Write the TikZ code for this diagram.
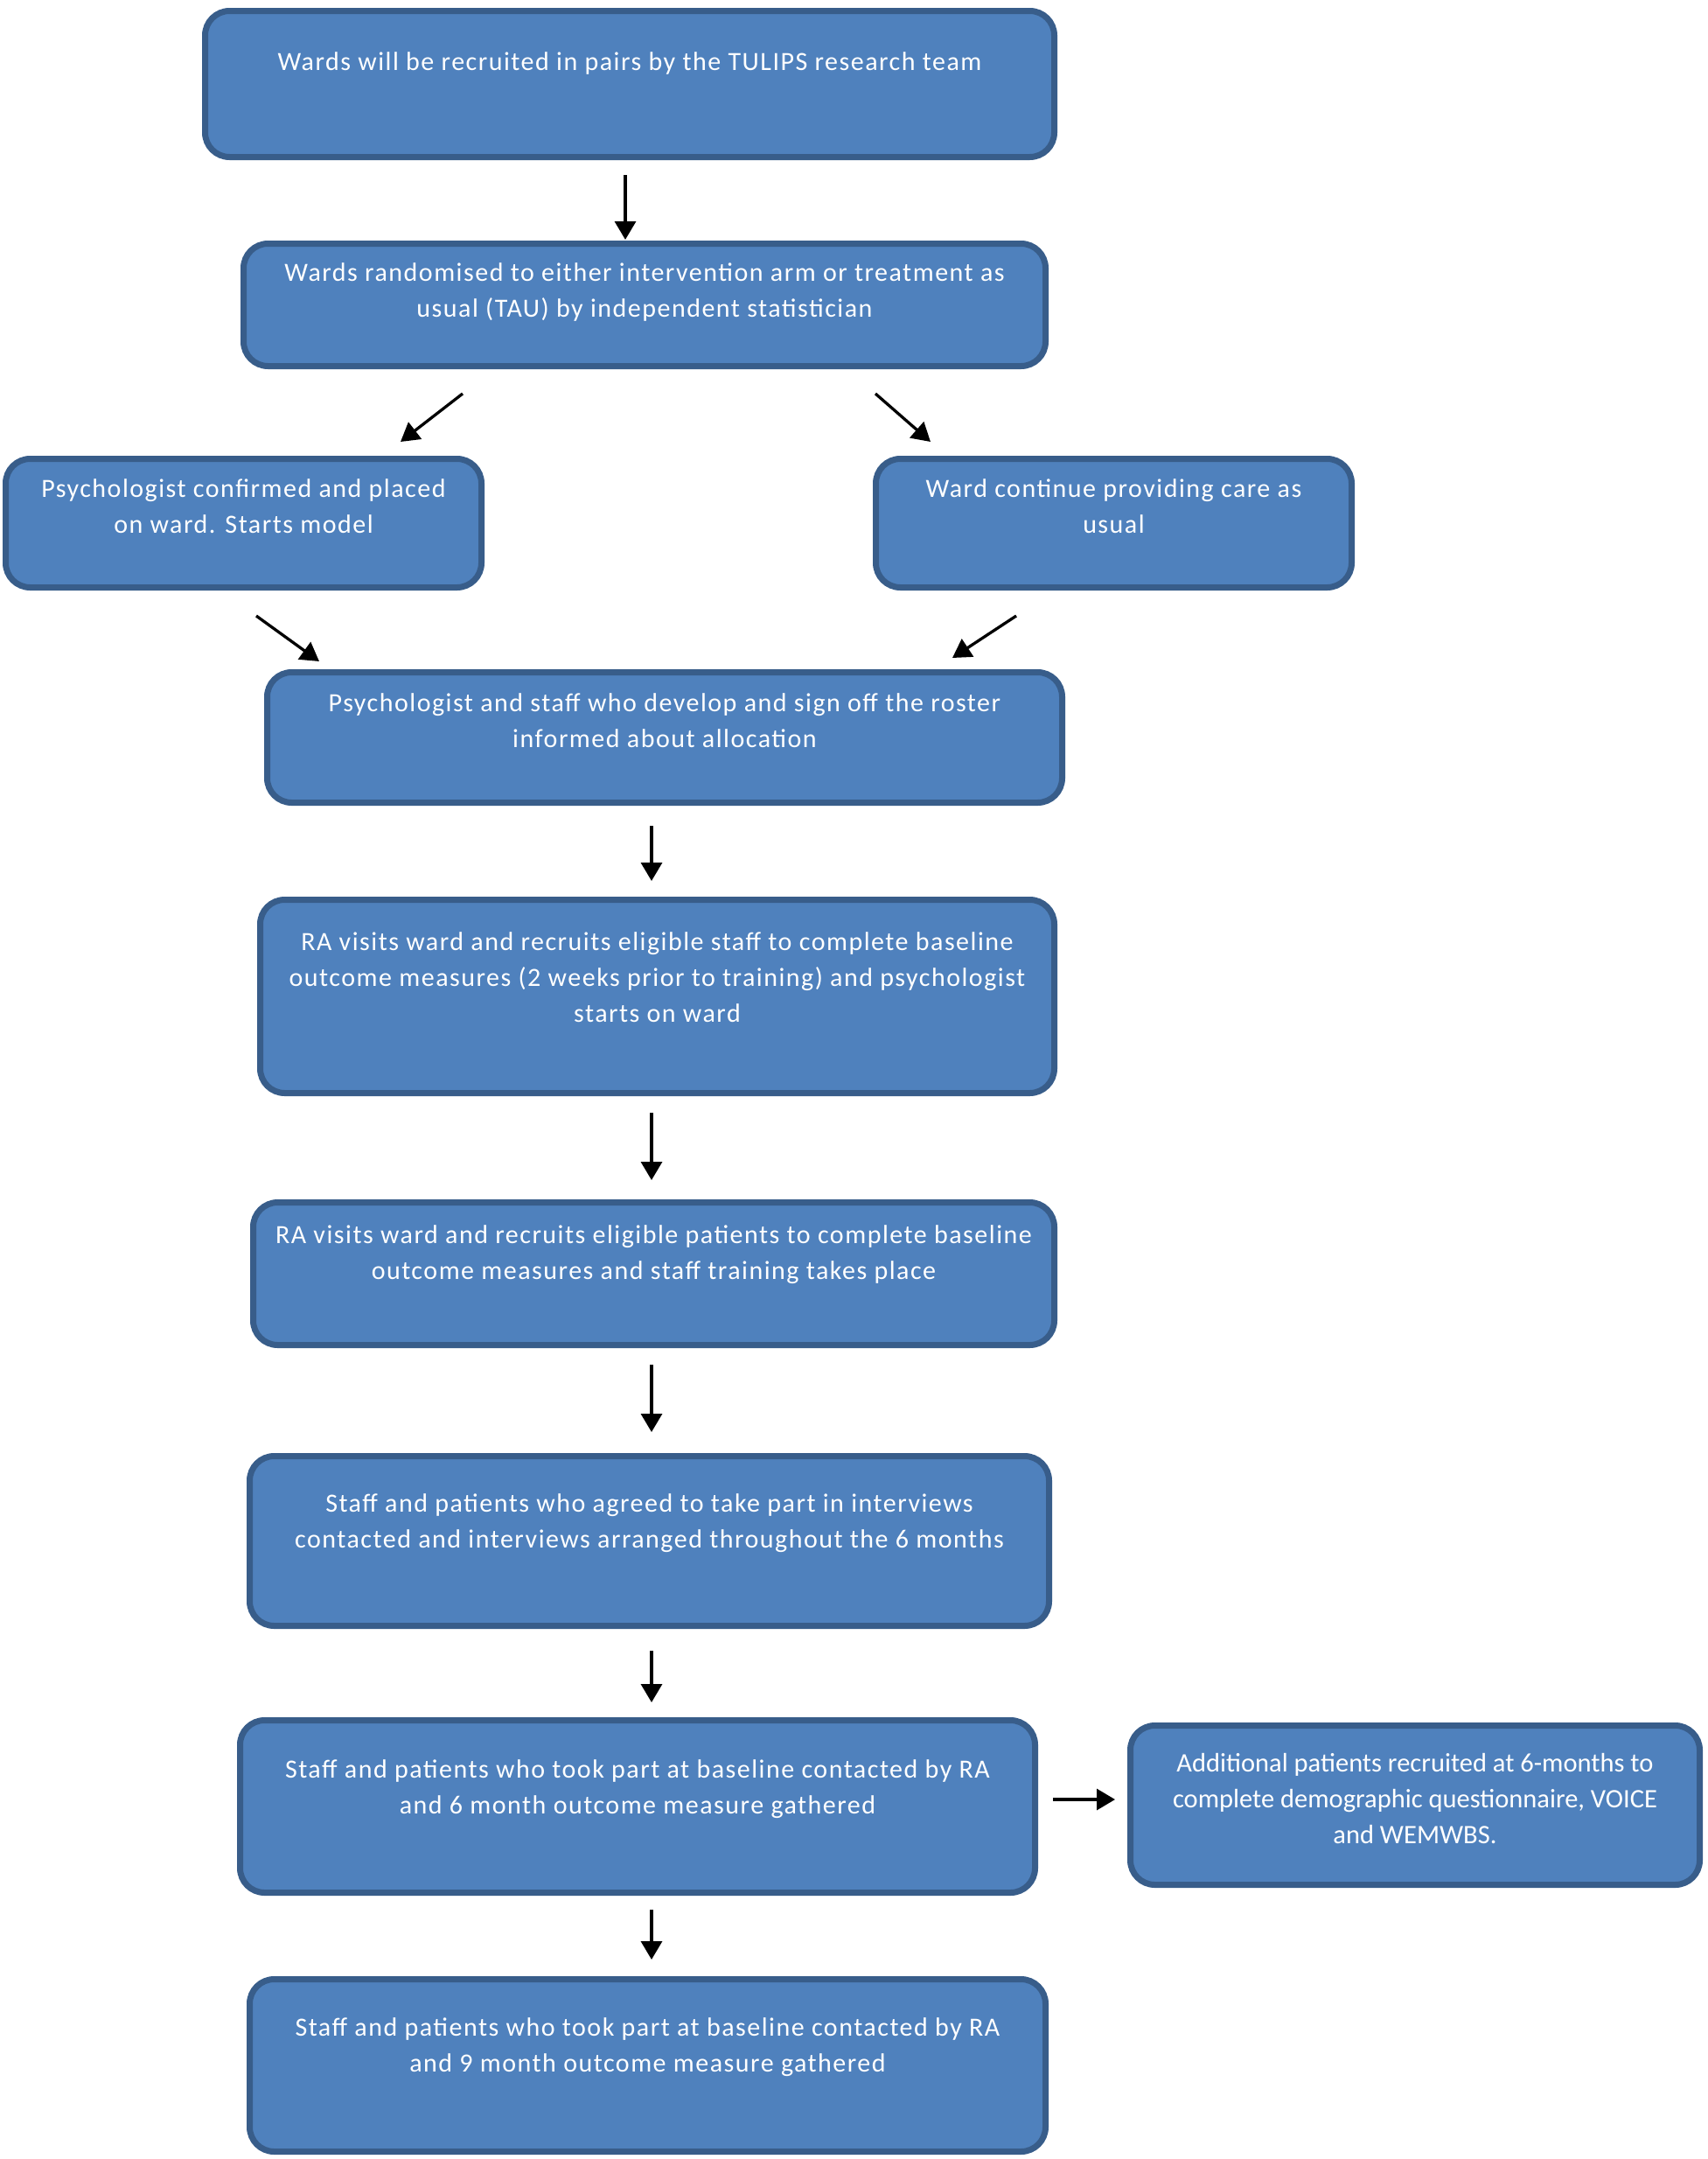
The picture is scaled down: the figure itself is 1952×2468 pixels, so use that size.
\documentclass[tikz,border=0pt]{standalone}
\usepackage{fontspec}
\setmainfont{Carlito}
\newfontfamily\boxfont[LetterSpace=5]{Carlito}
\usetikzlibrary{arrows.meta,positioning}
\definecolor{boxfill}{HTML}{4F81BD}
\definecolor{boxline}{HTML}{385D8A}
\tikzset{
  box/.style={draw=boxline, fill=boxfill, line width=7pt, rounded corners=28pt},
  txt/.style={text=white, align=center, inner sep=0pt, font=\boxfont\fontsize{30}{41}\selectfont},
  plaintxt/.style={txt, font=\fontsize{30.5}{41}\selectfont},
}
\begin{document}
\begin{tikzpicture}[x=1pt, y=-1pt, >={Triangle[length=21pt,width=24pt]}, every path/.style={line width=3.3pt}]
\useasboundingbox (0,0) rectangle (1952,2468);
\coordinate (topx) at (715,0);
\coordinate (mid) at (745,0);

% boxes
\node[box, minimum width=971pt, minimum height=167pt] (recruit) at (720,96) {};
\node[txt, below=49pt of recruit.north] (recruit-t) {Wards will be recruited in pairs by the TULIPS research team};

\node[box, minimum width=917pt, minimum height=140pt] (random) at (737,348.5) {};
\node[txt, below=24pt of random.north] (random-t) {Wards randomised to either intervention arm or treatment as\\usual (TAU) by independent statistician};

\node[box, minimum width=544pt, minimum height=147pt] (psych) at (278.5,598) {};
\node[txt, below=25pt of psych.north] (psych-t) {Psychologist confirmed and placed\\on ward. Starts model};

\node[box, minimum width=544pt, minimum height=147pt] (tau) at (1273.5,598) {};
\node[txt, below=25pt of tau.north] (tau-t) {Ward continue providing care as\\usual};

\node[box, minimum width=909pt, minimum height=149pt] (inform) at (760,843) {};
\node[txt, below=26pt of inform.north] (inform-t) {Psychologist and staff who develop and sign off the roster\\informed about allocation};

\node[box, minimum width=908pt, minimum height=221pt] (staffbl) at (751.5,1139) {};
\node[txt, below=39pt of staffbl.north] (staffbl-t) {RA visits ward and recruits eligible staff to complete baseline\\outcome measures (2 weeks prior to training) and psychologist\\starts on ward};

\node[box, minimum width=916pt, minimum height=163pt] (patbl) at (747.5,1456) {};
\node[txt, below=28pt of patbl.north] (patbl-t) {RA visits ward and recruits eligible patients to complete baseline\\outcome measures and staff training takes place};

\node[box, minimum width=914pt, minimum height=194pt] (interv) at (742.5,1761.5) {};
\node[txt, below=45pt of interv.north] (interv-t) {Staff and patients who agreed to take part in interviews\\contacted and interviews arranged throughout the 6 months};

\node[box, minimum width=909pt, minimum height=197pt] (six) at (729,2065) {};
\node[txt, below=47pt of six.north] (six-t) {Staff and patients who took part at baseline contacted by RA\\and 6 month outcome measure gathered};

\node[box, minimum width=651pt, minimum height=182pt] (extra) at (1618,2063.5) {};
\node[plaintxt, below=34pt of extra.north] (extra-t) {Additional patients recruited at 6-months to\\complete demographic questionnaire, VOICE\\and WEMWBS.};

\node[box, minimum width=910pt, minimum height=197pt] (nine) at (740.5,2361) {};
\node[txt, below=46pt of nine.north] (nine-t) {Staff and patients who took part at baseline contacted by RA\\and 9 month outcome measure gathered};

% arrows
\draw[->, shorten <=17pt, shorten >=1pt] (recruit.south -| topx) -- (random.north -| topx);
\coordinate (d1s) at (529,450); \coordinate (d1e) at (458,505);
\coordinate (d2s) at (1001,450); \coordinate (d2e) at (1064,505);
\coordinate (d3s) at (293,704); \coordinate (d3e) at (365,756);
\coordinate (d4s) at (1162,704); \coordinate (d4e) at (1089,752);
\draw[->] (d1s) -- (d1e);
\draw[->] (d2s) -- (d2e);
\draw[->] (d3s) -- (d3e);
\draw[->] (d4s) -- (d4e);
\draw[->, shorten <=23pt, shorten >=18pt] (inform.south -| mid) -- (staffbl.north -| mid);
\draw[->, shorten <=19pt, shorten >=22pt] (staffbl.south -| mid) -- (patbl.north -| mid);
\draw[->, shorten <=19pt, shorten >=24pt] (patbl.south -| mid) -- (interv.north -| mid);
\draw[->, shorten <=25pt, shorten >=17pt] (interv.south -| mid) -- (six.north -| mid);
\draw[->, shorten <=16pt, shorten >=19pt] (six.south -| mid) -- (nine.north -| mid);
\draw[->] ([yshift=8pt,xshift=17pt]six.east) -- ([yshift=6.5pt,xshift=-14pt]extra.west);
\end{tikzpicture}
\end{document}
